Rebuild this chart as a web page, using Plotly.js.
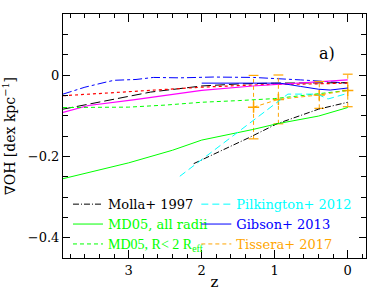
<!DOCTYPE html>
<html><head><meta charset="utf-8">
<script src="https://cdn.plot.ly/plotly-3.0.1.min.js"></script>
<style>html,body{margin:0;padding:0;background:#fff}#c{width:389px;height:291px}</style>
</head><body><div id="c"></div>
<script>
// Molla+ 1997
const mollaZ = [2.11, 1.7, 1.34, 0.97, 0.4, 0];
const mollaY = [-0.218, -0.184, -0.153, -0.12, -0.084, -0.067];
// MD05, all radii
const md05AllZ = [3.9, 3.0, 2.4, 2.0, 1.3, 0.97, 0.4, 0];
const md05AllY = [-0.255, -0.216, -0.185, -0.16, -0.134, -0.12, -0.101, -0.08];
// MD05, R < 2 Reff
const md05RZ = [3.9, 3.0, 2.5, 2.0, 1.5, 1.0, 0.4, 0];
const md05RY = [-0.08, -0.079, -0.074, -0.067, -0.063, -0.058, -0.046, -0.038];
// Pilkington+ 2012
const pilkZ = [2.3, 0.82, 0.42, 0.27, 0];
const pilkY = [-0.249, -0.047, -0.047, -0.059, -0.045];
// Gibson+ 2013
const gibsonZ = [2.0, 1.3, 0.93, 0.65, 0.4, 0.24, 0];
const gibsonY = [-0.02, -0.019, -0.02, -0.028, -0.035, -0.037, -0.032];
// Tissera+ 2017
const tissZ = [1.29, 0.95, 0.39, 0];
const tissY = [-0.079, -0.06, -0.049, -0.038];
const tissErr = [0.078, 0.06, 0.033, 0.04];
// other (unlabelled) curves
const blueDDZ = [3.9, 3.6, 3.3, 3.2, 2.9, 2.66, 2.3, 1.84, 1.29, 0.9, 0.65, 0.38, 0];
const blueDDY = [-0.047, -0.03, -0.017, -0.013, -0.011, -0.006, -0.007, -0.005, -0.006, -0.009, -0.012, -0.015, -0.02];
const blackLDZ = [3.9, 3.4, 3.0, 2.7, 2.0, 1.5, 1.0, 0.5, 0];
const blackLDY = [-0.084, -0.066, -0.052, -0.042, -0.027, -0.022, -0.02, -0.019, -0.019];
const redDotZ = [3.9, 3.4, 3.0, 2.5, 2.0, 1.5, 1.0, 0.5, 0];
const redDotY = [-0.051, -0.045, -0.041, -0.035, -0.03, -0.026, -0.023, -0.022, -0.02];
const magZ = [3.9, 3.6, 3.55, 2.94, 2.5, 2.0, 1.3, 0.65, 0];
const magY = [-0.092, -0.078, -0.075, -0.061, -0.05, -0.038, -0.027, -0.02, -0.012];

const xTicks = [0, 1, 2, 3];
const yTicks = [-0.4, -0.2, 0];

const FONT = 'DejaVu Serif, Liberation Serif, serif';
const lbl = (t, c, extra) => '<span style="color:' + c + (extra || '') + '">' + t + '</span>';

// build dashed error bar segments and caps from the data arrays
const ebX = [], ebY = [], capX = [], capY = [];
tissZ.forEach((z, i) => {
  ebX.push(z, z, null); ebY.push(tissY[i] - tissErr[i], tissY[i] + tissErr[i], null);
  capX.push(z, z); capY.push(tissY[i] - tissErr[i], tissY[i] + tissErr[i]);
});

const traces = [
  {x: blueDDZ, y: blueDDY, mode: 'lines', line: {color: '#0000ff', width: 1, dash: 'dashdot'}, showlegend: false},
  {x: blackLDZ, y: blackLDY, mode: 'lines', line: {color: '#000000', width: 1, dash: '10px,4px'}, showlegend: false},
  {x: redDotZ, y: redDotY, mode: 'lines', line: {color: '#ff0000', width: 1.2, dash: 'dot'}, showlegend: false},
  {x: magZ, y: magY, mode: 'lines', line: {color: '#ff00ff', width: 1.2}, showlegend: false},
  {x: ebX, y: ebY, mode: 'lines', line: {color: '#ffa500', width: 1, dash: '4px,3px'}, showlegend: false},
  {x: capX, y: capY, mode: 'markers', marker: {symbol: 'line-ew-open', size: 7, color: '#ffa500', line: {color: '#ffa500', width: 1.2}}, showlegend: false},
  {x: tissZ, y: tissY, mode: 'markers', marker: {symbol: 'cross-thin-open', size: 8, color: '#ffa500', line: {color: '#ffa500', width: 1.5}}, showlegend: false},
  {x: mollaZ, y: mollaY, mode: 'lines', legend: 'legend', legendgroup: 'a', name: lbl('Molla+ 1997', '#000000'), line: {color: '#000000', width: 1, dash: '6px,2px,1px,2px'}},
  {x: md05AllZ, y: md05AllY, mode: 'lines', legend: 'legend', legendgroup: 'b', name: lbl('MD05, all radii', '#00ff00'), line: {color: '#00ff00', width: 1}},
  {x: md05RZ, y: md05RY, mode: 'lines', legend: 'legend', legendgroup: 'c', name: lbl('MD05, R&lt; 2 R<sub>eff</sub>', '#00ff00', ';font-family:Liberation Serif;font-size:14px'), line: {color: '#00ff00', width: 1, dash: '4px,3px'}},
  {x: pilkZ, y: pilkY, mode: 'lines', legend: 'legend2', legendgroup: 'd', name: lbl('Pilkington+ 2012', '#00ffff'), line: {color: '#00ffff', width: 1, dash: '7px,4px'}},
  {x: gibsonZ, y: gibsonY, mode: 'lines', legend: 'legend2', legendgroup: 'e', name: lbl('Gibson+ 2013', '#0000ff'), line: {color: '#0000ff', width: 1}},
  {x: tissZ, y: tissY, mode: 'lines', legend: 'legend2', legendgroup: 'f', name: lbl('Tissera+ 2017', '#ffa500'), line: {color: '#ffa500', width: 1, dash: '4px,3px'}}
];

const legendBase = {yanchor: 'top', xanchor: 'left', orientation: 'v', bgcolor: 'rgba(0,0,0,0)', borderwidth: 0,
                    font: {family: FONT, size: 13}, itemwidth: 30, tracegroupgap: 4, traceorder: 'normal'};

const layout = {
  width: 389, height: 291,
  margin: {l: 63, r: 23, t: 14, b: 33},
  paper_bgcolor: '#fff', plot_bgcolor: '#fff',
  font: {family: FONT, size: 13, color: '#000'},
  showlegend: true,
  legend: Object.assign({}, legendBase, {x: 0.0165, y: 0.282}),
  legend2: Object.assign({}, legendBase, {x: 0.44, y: 0.282}),
  xaxis: {range: [3.9, -0.25], tickvals: xTicks, ticktext: xTicks.map(String),
          ticks: 'inside', ticklen: 8, tickcolor: '#000', showline: true, linecolor: '#000', linewidth: 1,
          mirror: 'ticks', showgrid: false, zeroline: false,
          minor: {dtick: 0.2, tick0: 0, ticks: 'inside', ticklen: 4, tickcolor: '#000', showgrid: false},
          tickfont: {family: FONT, size: 13},
          title: {text: 'z', font: {family: FONT, size: 15}, standoff: 4}},
  yaxis: {range: [-0.45, 0.15], tickvals: yTicks, ticktext: ['\u22120.4', '\u22120.2', '0'],
          ticks: 'inside', ticklen: 7, tickcolor: '#000', showline: true, linecolor: '#000', linewidth: 1,
          mirror: 'ticks', showgrid: false, zeroline: false,
          minor: {dtick: 0.05, tick0: 0, ticks: 'inside', ticklen: 5, tickcolor: '#000', showgrid: false},
          tickfont: {family: FONT, size: 13},
          title: {text: '\u2207OH [dex kpc<sup>\u22121</sup>]', font: {family: FONT, size: 14}, standoff: 14}},
  annotations: [{text: 'a)', xref: 'paper', yref: 'paper', x: 0.87, y: 0.84, xanchor: 'center', yanchor: 'middle',
                 showarrow: false, font: {family: FONT, size: 16}}]
};

Plotly.newPlot('c', traces, layout, {displayModeBar: false, staticPlot: true});
</script></body></html>
